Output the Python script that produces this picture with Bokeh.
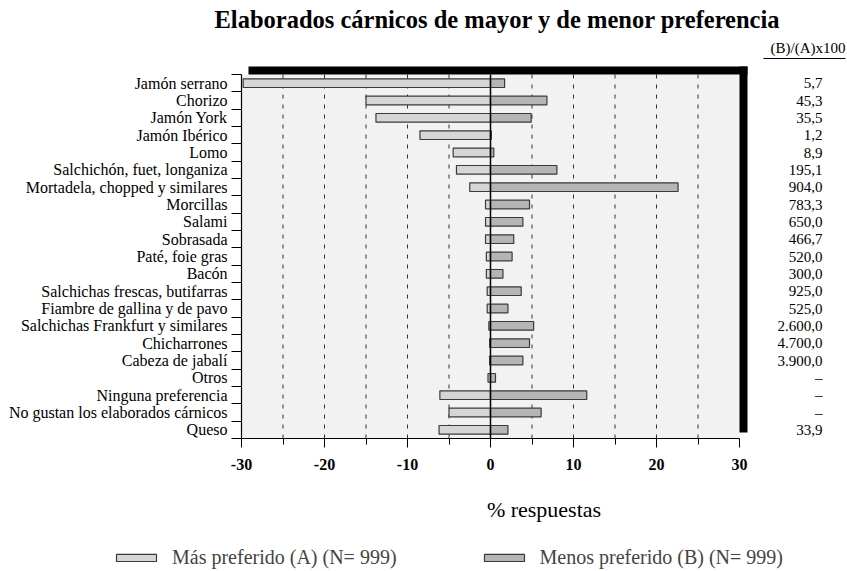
from bokeh.plotting import figure
from bokeh.layouts import column
from bokeh.models import Range1d, FixedTicker, ColumnDataSource, Legend, LegendItem, Title
from bokeh.core.properties import value
from bokeh.embed import file_html
from bokeh.resources import INLINE

# ---------------- data ----------------
categories = [
    "Jamón serrano", "Chorizo", "Jamón York", "Jamón Ibérico", "Lomo",
    "Salchichón, fuet, longaniza", "Mortadela, chopped y similares", "Morcillas",
    "Salami", "Sobrasada", "Paté, foie gras", "Bacón",
    "Salchichas frescas, butifarras", "Fiambre de gallina y de pavo",
    "Salchichas Frankfurt y similares", "Chicharrones", "Cabeza de jabalí",
    "Otros", "Ninguna preferencia", "No gustan los elaborados cárnicos", "Queso",
]
mas_preferido = [29.8, 15.0, 13.8, 8.5, 4.5, 4.1, 2.5, 0.6, 0.6, 0.6, 0.5, 0.5,
                 0.4, 0.4, 0.2, 0.1, 0.1, 0.3, 6.1, 5.0, 6.2]
menos_preferido = [1.7, 6.8, 4.9, 0.1, 0.4, 8.0, 22.6, 4.7, 3.9, 2.8, 2.6, 1.5,
                   3.7, 2.1, 5.2, 4.7, 3.9, 0.6, 11.6, 6.1, 2.1]
ratio_labels = ["5,7", "45,3", "35,5", "1,2", "8,9", "195,1", "904,0", "783,3",
                "650,0", "466,7", "520,0", "300,0", "925,0", "525,0", "2.600,0",
                "4.700,0", "3.900,0", "–", "–", "–", "33,9"]
x_tick_values = [-30, -20, -10, 0, 10, 20, 30]
x_tick_labels = ["-30", "-20", "-10", "0", "10", "20", "30"]
x_minor_values = [-25, -15, -5, 5, 15, 25]
grid_values = [-25, -20, -15, -10, -5, 5, 10, 15, 20, 25]

title_text = "Elaborados cárnicos de mayor y de menor preferencia"
ratio_header = "(B)/(A)x100"
x_label = "% respuestas"
legend_a = "Más preferido (A) (N= 999)"
legend_b = "Menos preferido (B) (N= 999)"

# ---------------- layout (pixels) ----------------
FONT = "Liberation Serif"
n = len(categories)
ypos = [n - 1 - i for i in range(n)]
X_MIN, X_MAX = -30, 30
Y_MIN, Y_MAX = -0.5, n - 0.5

W = 846
H1, H2 = 527, 43            # main chart / legend strip
PL, PR = 241, 739           # plot area left / right
PT, PB = 74, 438            # plot area top / bottom
FT = 32                     # frame top (room for header)
FR = W                      # frame right (room for ratio column)
SH = 8                      # drop shadow size

ux = (X_MAX - X_MIN) / (PR - PL)
uy = (Y_MAX - Y_MIN) / (PB - PT)
def xpx(px):
    return X_MIN + (px - PL) * ux
def ypx(py):
    return Y_MIN + (PB - py) * uy

p = figure(width=W, height=H1, output_backend="svg", toolbar_location=None,
           x_range=Range1d(X_MIN, xpx(FR)), y_range=Range1d(Y_MIN, ypx(FT)))
p.frame_align = False
p.min_border_left = PL
p.min_border_right = 0
p.min_border_top = FT
p.min_border_bottom = H1 - PB
p.background_fill_color = "white"
p.border_fill_color = "white"
p.outline_line_color = None
p.xgrid.visible = False
p.ygrid.visible = False

# plot panel background
p.quad(left=X_MIN, right=X_MAX, bottom=Y_MIN, top=Y_MAX,
       fill_color="#f2f2f2", line_color=None, level="image")

# dashed vertical grid lines
p.segment(x0=grid_values, y0=Y_MIN, x1=grid_values, y1=Y_MAX,
          line_color="#333333", line_width=1, line_dash="4 6", level="underlay")

src = ColumnDataSource(dict(
    y=ypos,
    cat=categories,
    mas_left=[-v for v in mas_preferido],
    menos_right=menos_preferido,
    ratio=ratio_labels,
))

BAR_A = dict(fill_color="#d6d6d6", line_color="#3a3a3a", line_width=1.2)
BAR_B = dict(fill_color="#b5b5b5", line_color="#3a3a3a", line_width=1.2)
p.hbar(y="y", left="mas_left", right=0, height=0.5, source=src, **BAR_A)
p.hbar(y="y", left=0, right="menos_right", height=0.5, source=src, **BAR_B)

# zero line
p.segment(x0=[0], y0=[Y_MIN], x1=[0], y1=[Y_MAX], line_color="black", line_width=1.5)

# drop shadow: top bar and right bar
p.quad(left=[xpx(PL + 7), X_MAX], right=[xpx(PR + SH), xpx(PR + SH)],
       bottom=[Y_MAX, ypx(PB - 6)], top=[ypx(PT - SH), ypx(PT - SH)],
       fill_color="black", line_color=None)

# ratio column header + underline
HDR_R = W - 1
p.text(x=[xpx(HDR_R)], y=[ypx(47)], text=[ratio_header], text_align="right",
       text_baseline="middle", text_font=value(FONT), text_font_size="15px",
       text_color="black")
p.segment(x0=[xpx(HDR_R - 82)], y0=[ypx(58)], x1=[xpx(HDR_R)], y1=[ypx(58)],
          line_color="black", line_width=1)

# ratio values
p.text(x=xpx(822), y="y", text="ratio", source=src, text_align="right",
       text_baseline="middle", text_font=value(FONT), text_font_size="15px",
       text_color="black")

# title
p.title.visible = False
p.add_layout(Title(text=title_text, align="left", offset=-27, standoff=0,
                   text_font=FONT, text_font_style="bold", text_font_size="24.5px",
                   text_color="black"), "above")

# x axis
xa = p.xaxis[0]
xa.bounds = (X_MIN, X_MAX)
xa.ticker = FixedTicker(ticks=x_tick_values, minor_ticks=x_minor_values)
xa.major_label_overrides = dict(zip(x_tick_values, x_tick_labels))
xa.major_tick_out = 9
xa.major_tick_in = 0
xa.minor_tick_out = 6
xa.minor_tick_in = 0
xa.major_tick_line_color = "black"
xa.minor_tick_line_color = "black"
xa.axis_line_color = "black"
xa.axis_line_width = 1.2
xa.major_label_text_font = FONT
xa.major_label_text_font_style = "bold"
xa.major_label_text_font_size = "16px"
xa.major_label_text_color = "black"
xa.major_label_standoff = 11
xa.axis_label = x_label
xa.axis_label_text_font = FONT
xa.axis_label_text_font_style = "normal"
xa.axis_label_text_font_size = "22px"
xa.axis_label_text_color = "black"
xa.axis_label_standoff = 24

# y axis
ya = p.yaxis[0]
ya.bounds = (Y_MIN, Y_MAX)
ya.ticker = FixedTicker(ticks=ypos, minor_ticks=[k - 0.5 for k in range(n + 1)])
ya.major_label_overrides = dict(zip(ypos, categories))
ya.major_tick_out = 0
ya.major_tick_in = 0
ya.minor_tick_out = 10
ya.minor_tick_in = 0
ya.minor_tick_line_color = "black"
ya.axis_line_color = "black"
ya.axis_line_width = 1.2
ya.major_label_text_font = FONT
ya.major_label_text_font_size = "16px"
ya.major_label_text_color = "black"
ya.major_label_standoff = 4

# ---------------- legend strip ----------------
p2 = figure(width=W, height=H2, output_backend="svg", toolbar_location=None,
            x_range=Range1d(0, 1), y_range=Range1d(0, 1),
            x_axis_location=None, y_axis_location=None, min_border=0)
p2.frame_align = False
p2.min_border_left = 0
p2.min_border_right = 0
p2.min_border_top = 0
p2.min_border_bottom = 0
p2.outline_line_color = None
p2.grid.visible = False
# legend-only renderers (kept outside the visible range)
la = p2.hbar(y=[-5], left=[0], right=[0.1], height=0.1, **BAR_A)
lb = p2.hbar(y=[-5], left=[0], right=[0.1], height=0.1, **BAR_B)
legend = Legend(items=[LegendItem(label=legend_a, renderers=[la]),
                       LegendItem(label=legend_b, renderers=[lb])],
                orientation="horizontal", location=(111, 1),
                glyph_width=50, glyph_height=9, label_standoff=11, spacing=82,
                padding=0, margin=0, border_line_color=None,
                background_fill_alpha=0, label_text_font=FONT,
                label_text_font_size="20px", label_height=20)
p2.add_layout(legend, "center")

layout = column(p, p2, spacing=0)
open("out.html", "w").write(file_html(layout, INLINE))
